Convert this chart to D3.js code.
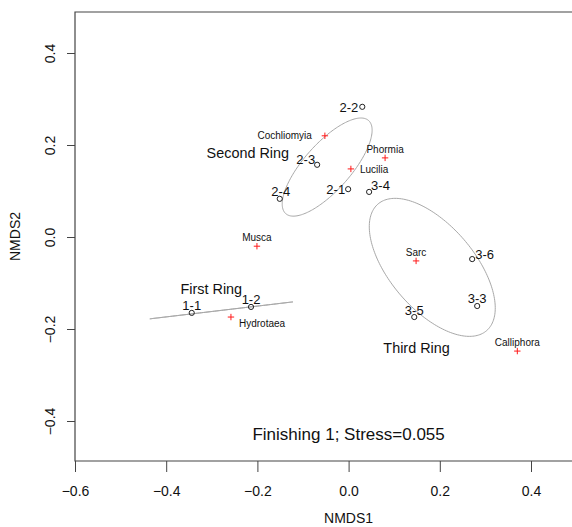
<!DOCTYPE html>
<html>
<head>
<meta charset="utf-8">
<script src="https://cdn.jsdelivr.net/npm/d3@7"></script>
<style>
  html, body { margin: 0; padding: 0; background: #fff; }
  svg { display: block; font-family: "Liberation Sans", Arial, Helvetica, sans-serif; }
</style>
</head>
<body>
<svg id="chart" width="572" height="527"></svg>
<script>
// ---- data ----
const siteNames = ["1-1", "1-2", "2-1", "2-2", "2-3", "2-4", "3-3", "3-4", "3-5", "3-6"];
const siteX     = [-0.344, -0.214, -0.001, 0.030, -0.069, -0.151, 0.282, 0.045, 0.144, 0.271];
const siteY     = [-0.165, -0.152, 0.104, 0.283, 0.157, 0.083, -0.150, 0.098, -0.174, -0.048];

const speciesNames = ["Cochliomyia", "Lucilia", "Phormia", "Musca", "Hydrotaea", "Sarc", "Calliphora"];
const speciesX     = [-0.052, 0.005, 0.080, -0.201, -0.258, 0.148, 0.370];
const speciesY     = [0.220, 0.148, 0.172, -0.020, -0.174, -0.052, -0.248];

// group ellipses (centre, semi-axes, rotation in degrees) in NMDS units
const ringNames   = ["First Ring", "Second Ring", "Third Ring"];
const ringCX      = [-0.279, -0.047, 0.1835];
const ringCY      = [-0.1595, 0.152, -0.066];
const ringA       = [0.158, 0.136, 0.182];
const ringB       = [0.0, 0.051, 0.092];
const ringAngle   = [6.7, 48, -49];
const ringLabelX  = [-0.301, -0.221, 0.149];
const ringLabelY  = [-0.113, 0.183, -0.241];

const xTicks = [-0.6, -0.4, -0.2, 0.0, 0.2, 0.4];
const yTicks = [-0.4, -0.2, 0.0, 0.2, 0.4];
const titleText = "Finishing 1; Stress=0.055";

// label placement styles (anchor, dx, dy in px)
const siteLabelStyle = {
  "1-1": ["middle", 0, -7], "1-2": ["middle", 0, -7], "2-1": ["end", -3, 0],
  "2-2": ["end", -4, 1], "2-3": ["end", -2, -5], "2-4": ["middle", 1, -7],
  "3-3": ["middle", 0, -8], "3-4": ["start", 2, -6], "3-5": ["middle", 0, -7],
  "3-6": ["start", 3, -5]
};
const speciesLabelStyle = {
  "Cochliomyia": ["end", -13, 0], "Lucilia": ["start", 9, 1], "Phormia": ["middle", 0, -8],
  "Musca": ["middle", 0, -9], "Hydrotaea": ["start", 8, 6], "Sarc": ["middle", 0, -8],
  "Calliphora": ["middle", 0, -9]
};

// ---- layout ----
const svg = d3.select("#chart");
const pLeft = 75, pTop = 12, pBottom = 461, pRight = 600;
const x = d3.scaleLinear().domain([-0.6, 0.4]).range([75, 531]);
const y = d3.scaleLinear().domain([-0.4, 0.4]).range([421, 53]);
const axisColor = "#444";

// ellipses
const line = d3.line().x(d => x(d[0])).y(d => y(d[1]));
ringNames.forEach((n, i) => {
  const th = ringAngle[i] * Math.PI / 180;
  const pts = d3.range(0, 201).map(k => {
    const t = k / 200 * 2 * Math.PI;
    const u = ringA[i] * Math.cos(t), v = ringB[i] * Math.sin(t);
    return [ringCX[i] + u * Math.cos(th) - v * Math.sin(th),
            ringCY[i] + u * Math.sin(th) + v * Math.cos(th)];
  });
  svg.append("path").attr("d", line(pts)).attr("fill", "none")
    .attr("stroke", "#a8a8a8").attr("stroke-width", 1);
  svg.append("text").attr("x", x(ringLabelX[i])).attr("y", y(ringLabelY[i]))
    .attr("dy", "0.35em").attr("text-anchor", "middle")
    .attr("font-size", 14.4).attr("fill", "#111").text(n);
});

// species crosses
const sp = speciesNames.map((n, i) => ({ n, x: speciesX[i], y: speciesY[i] }));
const cs = 3.2;
const spG = svg.append("g").selectAll("g").data(sp).join("g")
  .attr("transform", d => `translate(${x(d.x)},${y(d.y)})`);
spG.append("path").attr("d", `M${-cs},0H${cs}M0,${-cs}V${cs}`)
  .attr("stroke", "#ff1a1a").attr("stroke-width", 1).attr("fill", "none");
spG.append("text")
  .attr("x", d => speciesLabelStyle[d.n][1])
  .attr("y", d => speciesLabelStyle[d.n][2])
  .attr("dy", "0.35em")
  .attr("text-anchor", d => speciesLabelStyle[d.n][0])
  .attr("font-size", 10).attr("fill", "#111").text(d => d.n);

// sites
const st = siteNames.map((n, i) => ({ n, x: siteX[i], y: siteY[i] }));
const stG = svg.append("g").selectAll("g").data(st).join("g")
  .attr("transform", d => `translate(${x(d.x)},${y(d.y)})`);
stG.append("circle").attr("r", 2.6).attr("fill", "none")
  .attr("stroke", "#222").attr("stroke-width", 1);
stG.append("text")
  .attr("x", d => siteLabelStyle[d.n][1])
  .attr("y", d => siteLabelStyle[d.n][2])
  .attr("dy", "0.35em")
  .attr("text-anchor", d => siteLabelStyle[d.n][0])
  .attr("font-size", 13).attr("fill", "#111").text(d => d.n);

// stress annotation
svg.append("text").attr("x", x(0)).attr("y", y(-0.428)).attr("dy", "0.35em")
  .attr("text-anchor", "middle").attr("font-size", 17).attr("fill", "#111").text(titleText);

// box
svg.append("path")
  .attr("d", `M${pRight},${pTop}H${pLeft}V${pBottom}H${pRight}`)
  .attr("fill", "none").attr("stroke", axisColor).attr("stroke-width", 1.2);

// axes
const xAxis = svg.append("g").attr("transform", `translate(0,${pBottom})`)
  .call(d3.axisBottom(x).tickValues(xTicks).tickFormat(d3.format(".1f")).tickSize(11).tickPadding(14));
xAxis.select(".domain").remove();
xAxis.selectAll("line").attr("stroke", axisColor);
xAxis.selectAll("text").attr("font-size", 14).attr("fill", "#111")
  .attr("font-family", "Liberation Sans, Arial, sans-serif");

const yAxis = svg.append("g").attr("transform", `translate(${pLeft},0)`)
  .call(d3.axisLeft(y).tickValues(yTicks).tickFormat(d3.format(".1f")).tickSize(8));
yAxis.select(".domain").remove();
yAxis.selectAll("line").attr("stroke", axisColor);
yAxis.selectAll("text").attr("x", 0).attr("dy", null)
  .attr("text-anchor", "middle").attr("transform", "translate(-20,0) rotate(-90)")
  .attr("font-size", 14).attr("fill", "#111")
  .attr("font-family", "Liberation Sans, Arial, sans-serif");

// axis titles
svg.append("text").attr("x", x(0)).attr("y", 523).attr("text-anchor", "middle")
  .attr("font-size", 14).attr("fill", "#111").text("NMDS1");
svg.append("text").attr("transform", `translate(20,${(pTop + pBottom) / 2}) rotate(-90)`)
  .attr("text-anchor", "middle").attr("font-size", 14).attr("fill", "#111").text("NMDS2");
</script>
</body>
</html>
